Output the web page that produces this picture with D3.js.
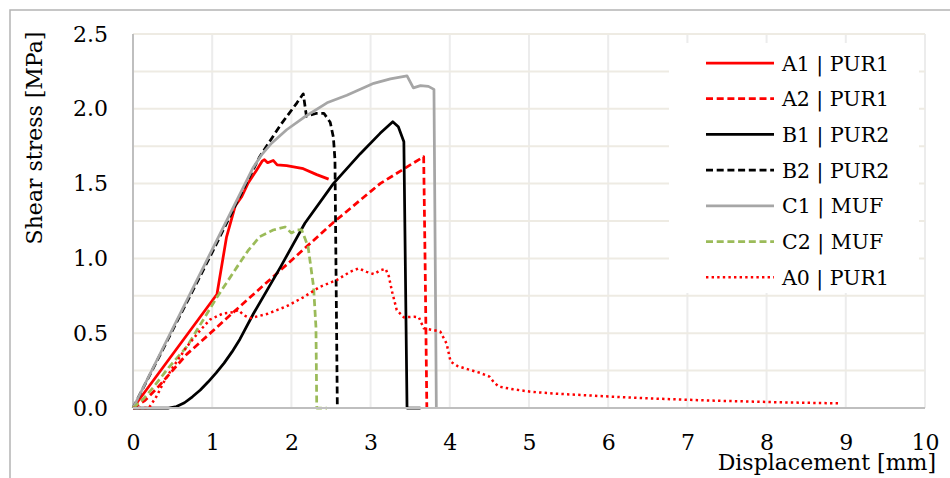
<!DOCTYPE html>
<html>
<head>
<meta charset="utf-8">
<script src="https://cdn.jsdelivr.net/npm/d3@7"></script>
<style>
  body { margin: 0; background: #fff; }
  svg text { font-family: "DejaVu Serif", serif; fill: #000; }
</style>
</head>
<body>
<div class="chart"></div>
<script>
// data: [displacement mm, shear stress MPa]
var a1 = [[0,0],[1.06,0.76],[1.18,1.14],[1.29,1.35],[1.37,1.41],[1.45,1.5],[1.56,1.59],[1.63,1.65],[1.66,1.66],[1.7,1.64],[1.77,1.655],[1.82,1.625],[1.94,1.62],[2.15,1.6],[2.32,1.56],[2.47,1.53]];
var a2 = [[0,0],[0.15,0.05],[0.3,0.13],[0.68,0.36],[0.85,0.44],[1.31,0.66],[1.86,0.92],[2.53,1.24],[3.12,1.5],[3.67,1.68],[3.69,0.9],[3.71,0]];
var b1 = [[0,0],[0.45,0],[0.55,0.01],[0.65,0.035],[0.75,0.075],[0.85,0.12],[0.95,0.175],[1.05,0.235],[1.15,0.3],[1.25,0.375],[1.35,0.46],[1.52,0.63],[1.86,0.94],[2.17,1.235],[2.53,1.5],[2.87,1.7],[3.12,1.836],[3.28,1.914],[3.35,1.88],[3.42,1.78],[3.46,0],[3.63,0]];
var b2 = [[0,0],[0.5,0.52],[1.0,1.04],[1.4,1.47],[1.6,1.68],[1.86,1.89],[2.07,2.04],[2.15,2.1],[2.19,1.95],[2.32,1.97],[2.41,1.97],[2.49,1.91],[2.53,1.81],[2.55,1.66],[2.58,0]];
var c1 = [[0,0],[1.52,1.61],[1.62,1.69],[1.75,1.77],[1.94,1.86],[2.15,1.94],[2.45,2.04],[2.7,2.09],[3.04,2.17],[3.25,2.2],[3.46,2.22],[3.54,2.14],[3.63,2.155],[3.73,2.15],[3.8,2.13],[3.83,0]];
var c2 = [[0,0],[0.13,0.06],[0.26,0.14],[0.45,0.27],[0.68,0.41],[1.06,0.74],[1.31,0.94],[1.45,1.05],[1.6,1.145],[1.77,1.19],[1.92,1.21],[2.0,1.17],[2.07,1.19],[2.13,1.19],[2.21,1.08],[2.28,0.81],[2.31,0.54],[2.32,0],[2.45,0]];
var a0 = [[0,0],[0.2,0],[0.3,0.08],[0.38,0.165],[0.5,0.27],[0.68,0.41],[0.85,0.52],[0.97,0.59],[1.14,0.633],[1.27,0.64],[1.33,0.655],[1.4,0.62],[1.48,0.6],[1.7,0.63],[1.94,0.68],[2.15,0.74],[2.36,0.81],[2.575,0.856],[2.74,0.91],[2.85,0.934],[2.95,0.91],[3.04,0.895],[3.12,0.92],[3.19,0.93],[3.23,0.88],[3.27,0.78],[3.33,0.655],[3.42,0.606],[3.55,0.61],[3.61,0.606],[3.67,0.533],[3.8,0.52],[3.88,0.51],[3.96,0.43],[4.01,0.31],[4.1,0.28],[4.22,0.26],[4.38,0.235],[4.5,0.21],[4.56,0.17],[4.62,0.143],[4.8,0.125],[5.02,0.109],[5.3,0.097],[5.65,0.087],[6.0,0.077],[6.49,0.065],[7.0,0.055],[7.34,0.049],[7.8,0.043],[8.18,0.038],[8.6,0.034],[8.94,0.031]];

var seriesNames = ["A1 | PUR1", "A2 | PUR1", "B1 | PUR2", "B2 | PUR2", "C1 | MUF", "C2 | MUF", "A0 | PUR1"];
var xTicks = [0, 1, 2, 3, 4, 5, 6, 7, 8, 9, 10];
var yTicks = [0, 0.5, 1.0, 1.5, 2.0, 2.5];
var yGrid = [0.25, 0.5, 0.75, 1.0, 1.25, 1.5, 1.75, 2.0, 2.25, 2.5];

var seriesData = [a1, a2, b1, b2, c1, c2, a0];
var styles = [
  {color: "#ff0000", dash: null, w: 2.75},
  {color: "#ff0000", dash: "7,3.7", w: 2.75},
  {color: "#000000", dash: null, w: 2.75},
  {color: "#000000", dash: "7,3.7", w: 2.75},
  {color: "#a6a6a6", dash: null, w: 2.75},
  {color: "#9bbb59", dash: "7,3.7", w: 2.75},
  {color: "#ff0000", dash: "2.4,3.2", w: 2.5}
];

var svgWidth = 950;
var svgHeight = 478;

var svg = d3.select('.chart').append('svg').attr('width', svgWidth).attr('height', svgHeight);

svg.append('rect').attr('width', svgWidth).attr('height', svgHeight).attr('fill', '#fff');
// chart frame (runs off the right / bottom of the image)
svg.append('rect').attr('x', 10).attr('y', 10).attr('width', 1000).attr('height', 1000)
  .attr('fill', 'none').attr('stroke', '#b4b4b4').attr('stroke-width', 1.5);

var xScale = d3.scaleLinear().domain([0, 10]).range([133, 925]);
var yScale = d3.scaleLinear().domain([0, 2.5]).range([408, 34]);

// gridlines
svg.append('g').selectAll('line').data(xTicks.slice(1)).enter().append('line')
  .attr('x1', function(d){ return xScale(d); }).attr('x2', function(d){ return xScale(d); })
  .attr('y1', yScale(2.5)).attr('y2', yScale(0))
  .attr('stroke', '#ececec').attr('stroke-width', 2);

svg.append('g').selectAll('line').data(yGrid).enter().append('line')
  .attr('x1', xScale(0)).attr('x2', xScale(10))
  .attr('y1', function(d){ return yScale(d); }).attr('y2', function(d){ return yScale(d); })
  .attr('stroke', '#eeebe3').attr('stroke-width', 2);

// axes
var xAxis = d3.axisBottom(xScale).tickValues(xTicks).tickSize(0).tickPadding(26).tickFormat(d3.format('d'));
var yAxis = d3.axisLeft(yScale).tickValues(yTicks).tickSize(0).tickPadding(25).tickFormat(d3.format('.1f'));

var gx = svg.append('g').attr('transform', 'translate(0,' + yScale(0) + ')').call(xAxis);
var gy = svg.append('g').attr('transform', 'translate(' + xScale(0) + ',0)').call(yAxis);
gx.select('.domain').remove();
gy.select('.domain').remove();
gx.selectAll('text').attr('font-size', 22).style('font-family', '"DejaVu Serif", serif').attr('fill', '#000');
gy.selectAll('text').attr('font-size', 22).style('font-family', '"DejaVu Serif", serif').attr('fill', '#000');

svg.append('line').attr('x1', xScale(0)).attr('x2', xScale(0)).attr('y1', yScale(2.5)).attr('y2', yScale(0))
  .attr('stroke', '#bfbfbf').attr('stroke-width', 2);

// series
var line = d3.line().x(function(d){ return xScale(d[0]); }).y(function(d){ return yScale(d[1]); });

svg.append('g').selectAll('path').data(seriesData).enter().append('path')
  .attr('d', line)
  .attr('fill', 'none')
  .attr('stroke', function(d, i){ return styles[i].color; })
  .attr('stroke-width', function(d, i){ return styles[i].w; })
  .attr('stroke-dasharray', function(d, i){ return styles[i].dash; })
  .attr('stroke-linejoin', 'round');

svg.append('line').attr('x1', xScale(0)).attr('x2', xScale(10)).attr('y1', yScale(0)).attr('y2', yScale(0))
  .attr('stroke', '#bfbfbf').attr('stroke-width', 2);

// axis titles
svg.append('text').attr('transform', 'translate(42,138)rotate(-90)').attr('text-anchor', 'middle')
  .attr('font-size', 22).text('Shear stress [MPa]');
svg.append('text').attr('x', 936).attr('y', 470).attr('text-anchor', 'end')
  .attr('font-size', 22).text('Displacement [mm]');

// legend
var legend = svg.append('g');
legend.append('rect').attr('x', 669).attr('y', 43).attr('width', 250).attr('height', 250).attr('fill', '#fff');

var rows = legend.selectAll('g.row').data(seriesNames).enter().append('g')
  .attr('class', 'row')
  .attr('transform', function(d, i){ return 'translate(0,' + (63 + i * 35.7) + ')'; });

rows.append('line').attr('x1', 706).attr('x2', 774).attr('y1', 0).attr('y2', 0)
  .attr('stroke', function(d, i){ return styles[i].color; })
  .attr('stroke-width', function(d, i){ return styles[i].w; })
  .attr('stroke-dasharray', function(d, i){ return styles[i].dash; });

rows.append('text').attr('x', 782).attr('y', 7.5).attr('font-size', 20.5).text(function(d){ return d; });
</script>
</body>
</html>
